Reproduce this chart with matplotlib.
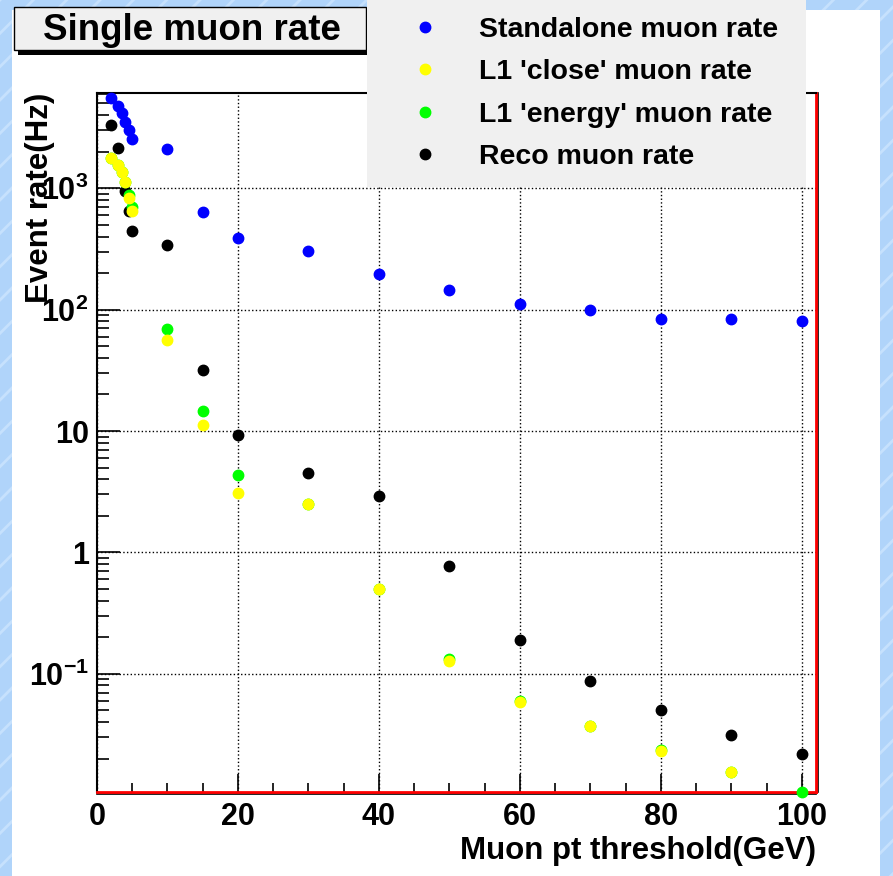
import numpy as np
import matplotlib
matplotlib.use('Agg')
import matplotlib.pyplot as plt
from matplotlib.patches import Rectangle
from matplotlib.lines import Line2D
from matplotlib.transforms import offset_copy

# пороги по pt мюона (ГэВ)
pt = [2, 3, 3.5, 4, 4.5, 5, 10, 15, 20, 30, 40, 50, 60, 70, 80, 90, 100]
# частоты событий (Гц)
standalone = [5540, 4790, 4170, 3490, 3040, 2550, 2120, 640, 390, 305, 196, 146, 112, 100, 83, 83, 81]
l1_close = [1770, 1570, 1360, 1130, 835, 655, 55.7, 11.2, 3.1, 2.5, 0.50, 0.128, 0.058, 0.0374, 0.023, 0.0156, np.nan]
l1_energy = [1770, 1570, 1360, 1130, 875, 700, 68.7, 14.6, 4.3, 2.5, 0.50, 0.132, 0.060, 0.0374, 0.0236, 0.0156, 0.0106]
reco = [3340, 2150, np.nan, 945, 645, 447, 340, 32.0, 9.2, 4.55, 2.9, 0.775, 0.191, 0.087, 0.0498, 0.0313, 0.0216]

labels = ['Standalone muon rate', "L1 'close' muon rate", "L1 'energy' muon rate", 'Reco muon rate']
colors = ['#0000ff', '#ffff00', '#00ff00', '#000000']
yticks = [0.1, 1, 10, 100, 1000]
ytick_labels = ['$10^{-1}$', '1', '10', '$10^{2}$', '$10^{3}$']

plt.rcParams['font.family'] = ['Liberation Sans', 'DejaVu Sans']
plt.rcParams['font.weight'] = 'bold'
plt.rcParams['axes.labelweight'] = 'bold'
plt.rcParams['mathtext.fontset'] = 'custom'
for k in ['rm', 'it', 'bf', 'sf']:
    plt.rcParams['mathtext.' + k] = 'Liberation Sans:bold'
plt.rcParams['mathtext.default'] = 'rm'
plt.rcParams['hatch.linewidth'] = 2.0

W, H = 893, 876
fig = plt.figure(figsize=(W / 100, H / 100), dpi=100)

# фон как на слайде
fig.patches.append(Rectangle((0, 0), 1, 1, transform=fig.transFigure, fc='#b0d4fa',
                             ec='#c6e1fd', hatch='/', lw=0, zorder=-10))
fig.patches.append(Rectangle((12 / W, 0), (880 - 12) / W, 1 - 10 / H, transform=fig.transFigure,
                             fc='white', ec='none', zorder=-9))

ax = fig.add_axes([97 / W, 1 - 792 / H, (816 - 97) / W, (792 - 93) / H])
ax.set_yscale('log')
ax.set_xlim(0, 102)
ax.set_ylim(0.0106, 6100)

series = [standalone, l1_close, l1_energy, reco]
zorders = [6, 5, 4, 3]
handles = []
for vals, c, lab, z in zip(series, colors, labels, zorders):
    ln, = ax.plot(pt, vals, 'o', color=c, mec=c, ms=7.5, ls='none', label=lab, zorder=z,
                  clip_on=False)
    handles.append(ln)

ax.grid(True, which='major', ls=':', color='black', lw=1)
ax.set_xticks([0, 20, 40, 60, 80, 100])
ax.set_xticks(np.arange(0, 101, 5), minor=True)
ax.set_yticks(yticks)
ax.set_yticklabels(ytick_labels)
ax.tick_params(axis='both', which='both', direction='in', labelsize=22, width=1.2,
               top=False, right=False)
ax.tick_params(axis='x', which='major', length=13, pad=7)
ax.tick_params(axis='x', which='minor', length=6.5)
ax.tick_params(axis='y', which='major', length=16.5, pad=6)
ax.tick_params(axis='y', which='minor', length=8.5)

for s in ['left', 'top']:
    ax.spines[s].set_linewidth(1.5)
for s in ['bottom', 'right']:
    ax.spines[s].set_color('red')
    ax.spines[s].set_linewidth(2)
tb = offset_copy(ax.transAxes, fig=fig, x=0, y=-2, units='dots')
ax.add_line(Line2D([0, 1], [0, 0], color='black', lw=1.2, transform=tb, clip_on=False))
tr = offset_copy(ax.transAxes, fig=fig, x=2, y=0, units='dots')
ax.add_line(Line2D([1, 1], [0, 1], color='black', lw=1.2, transform=tr, clip_on=False))

ax.set_xlabel('Muon pt threshold(GeV)', fontsize=22.5, fontweight='bold', loc='right', labelpad=3)
ax.set_ylabel('Event rate(Hz)', fontsize=22.5, fontweight='bold', loc='top')
ax.yaxis.set_label_coords(-0.058, 1.0)

# заголовок в рамке с тенью
fig.patches.append(Rectangle((18 / W, 1 - 55 / H), (366 - 14) / W, (50 - 7) / H,
                             transform=fig.transFigure, fc='black', ec='none', zorder=20))
fig.patches.append(Rectangle((14 / W, 1 - 50 / H), (366 - 14) / W, (50 - 7) / H,
                             transform=fig.transFigure, fc='#f0f0f0', ec='black', lw=1,
                             zorder=21))
fig.text(192 / W, 1 - 31 / H, 'Single muon rate', fontsize=26.5, ha='center', va='center',
         zorder=22)

leg = fig.legend(handles, labels, loc='upper left',
                 bbox_to_anchor=(367 / W, 0, (806 - 367) / W, 1.0), mode='expand',
                 borderaxespad=0, fontsize=20.5, handlelength=2.9, handletextpad=0.45,
                 borderpad=0.58, labelspacing=0.58, markerscale=1.0, fancybox=False,
                 framealpha=1, facecolor='#f0f0f0', edgecolor='none')
leg.set_zorder(30)

fig.savefig('out.png', dpi=100)
